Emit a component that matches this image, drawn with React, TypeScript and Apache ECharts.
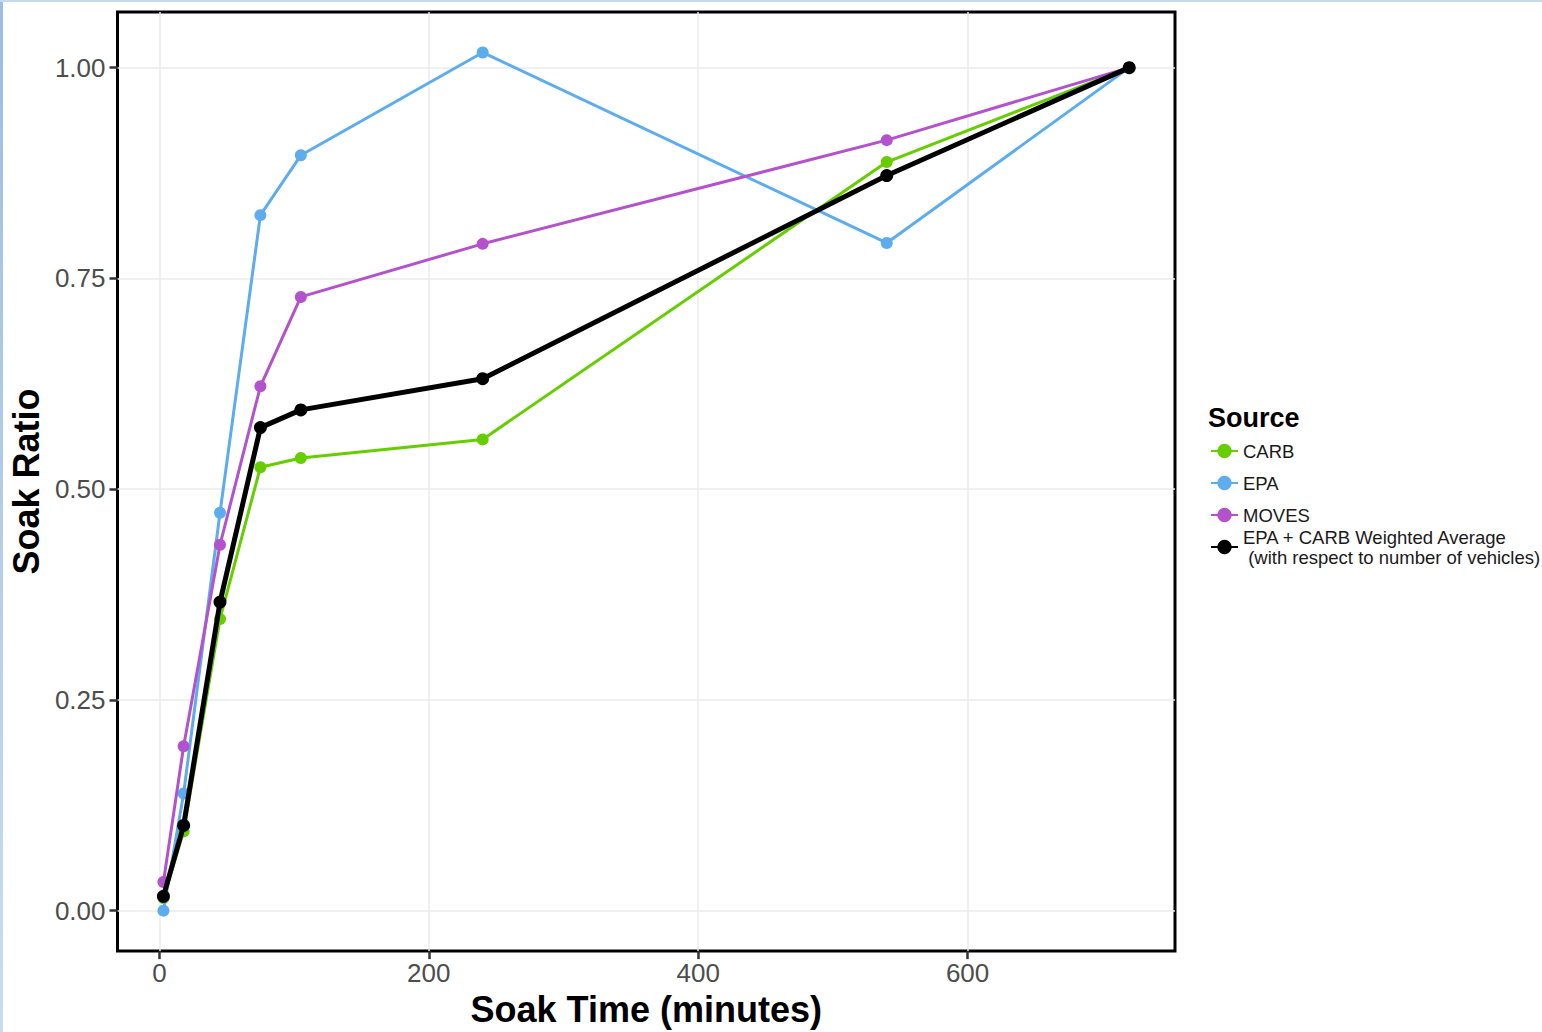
import React, { useEffect, useRef } from "react";
import * as echarts from "echarts";

const soakTimes = [3, 18, 45, 75, 105, 240, 540, 720];
const carb = [0.015, 0.094, 0.346, 0.526, 0.537, 0.559, 0.888, 1.0];
const epa = [0.0, 0.139, 0.472, 0.825, 0.896, 1.018, 0.792, 1.0];
const moves = [0.034, 0.195, 0.434, 0.622, 0.728, 0.791, 0.914, 1.0];
const weighted = [0.017, 0.101, 0.366, 0.573, 0.594, 0.631, 0.872, 1.0];

const xTicks = [0, 200, 400, 600];
const yTicks = [0, 0.25, 0.5, 0.75, 1.0];

const seriesNames = [
  "CARB",
  "EPA",
  "MOVES",
  "EPA + CARB Weighted Average\n (with respect to number of vehicles)",
];
const seriesColors = ["#66CD00", "#5CACEE", "#B452CD", "#000000"];
const seriesValues = [carb, epa, moves, weighted];

const FONT = "'Liberation Sans', Arial, sans-serif";

export default function App() {
  const ref = useRef<HTMLDivElement>(null);

  useEffect(() => {
    document.body.style.margin = "0";
    if (!ref.current) return;
    const chart = echarts.init(ref.current, undefined, { renderer: "svg" });

    const series = seriesValues.map((vals, i) => {
      const isAvg = i === 3;
      return {
        name: seriesNames[i],
        type: "line",
        data: soakTimes.map((t, j) => [t, vals[j]]),
        symbol: "circle",
        symbolSize: isAvg ? 13 : 12,
        showSymbol: true,
        lineStyle: { color: seriesColors[i], width: isAvg ? 5 : 3 },
        itemStyle: { color: seriesColors[i] },
        z: 2 + i,
        emphasis: { disabled: true },
      };
    });

    const legendBase = {
      orient: "vertical",
      left: 1210,
      itemWidth: 27,
      itemHeight: 18,
      itemGap: 12,
      textStyle: { fontFamily: FONT, fontSize: 18.5, color: "#1A1A1A", lineHeight: 20 },
      selectedMode: false,
      padding: 0,
    };

    chart.setOption({
      animation: false,
      backgroundColor: "#FFFFFF",
      grid: {
        left: 115,
        right: 367,
        top: 12,
        bottom: 75,
        show: true,
        borderColor: "#000000",
        borderWidth: 3,
        backgroundColor: "transparent",
        containLabel: false,
      },
      xAxis: {
        type: "value",
        min: -31.1,
        max: 754,
        name: "Soak Time (minutes)",
        nameLocation: "middle",
        nameGap: 34,
        nameTextStyle: { fontFamily: FONT, fontSize: 36, fontWeight: "bold", color: "#000000" },
        axisLine: { show: false, onZero: false },
        axisTick: {
          show: true,
          customValues: xTicks,
          length: 8,
          lineStyle: { color: "#333333", width: 2.5 },
        },
        axisLabel: {
          customValues: xTicks,
          fontFamily: FONT,
          fontSize: 26,
          color: "#4D4D4D",
          margin: 9,
        },
        splitLine: { show: true, lineStyle: { color: "#EBEBEB", width: 1.5 } },
      },
      yAxis: {
        type: "value",
        min: -0.048,
        max: 1.066,
        name: "Soak Ratio",
        nameLocation: "middle",
        nameGap: 70,
        nameTextStyle: { fontFamily: FONT, fontSize: 36, fontWeight: "bold", color: "#000000" },
        axisLine: { show: false, onZero: false },
        axisTick: {
          show: true,
          customValues: yTicks,
          length: 8,
          lineStyle: { color: "#333333", width: 2.5 },
        },
        axisLabel: {
          customValues: yTicks,
          formatter: (v: number) => v.toFixed(2),
          fontFamily: FONT,
          fontSize: 26,
          color: "#4D4D4D",
          margin: 12,
        },
        splitLine: { show: true, lineStyle: { color: "#EBEBEB", width: 1.5 } },
      },
      legend: [
        { ...legendBase, top: 441, data: seriesNames.slice(0, 3) },
        { ...legendBase, top: 527, data: seriesNames.slice(3) },
      ],
      graphic: [
        {
          type: "rect",
          left: 0,
          top: 0,
          shape: { width: 3, height: 1032 },
          style: {
            fill: new echarts.graphic.LinearGradient(0, 0, 0, 1, [
              { offset: 0, color: "#9DBCE3" },
              { offset: 1, color: "#CADCF1" },
            ]),
          },
          silent: true,
        },
        {
          type: "rect",
          left: 0,
          top: 0,
          shape: { width: 1542, height: 2 },
          style: { fill: "#C6D9EF" },
          silent: true,
        },
        {
          type: "text",
          left: 1208,
          top: 404,
          style: {
            text: "Source",
            fontFamily: FONT,
            fontSize: 27,
            fontWeight: "bold",
            fill: "#000000",
          },
        },
      ],
      series,
    });

    return () => chart.dispose();
  }, []);

  return <div ref={ref} style={{ width: 1542, height: 1032 }} />;
}
